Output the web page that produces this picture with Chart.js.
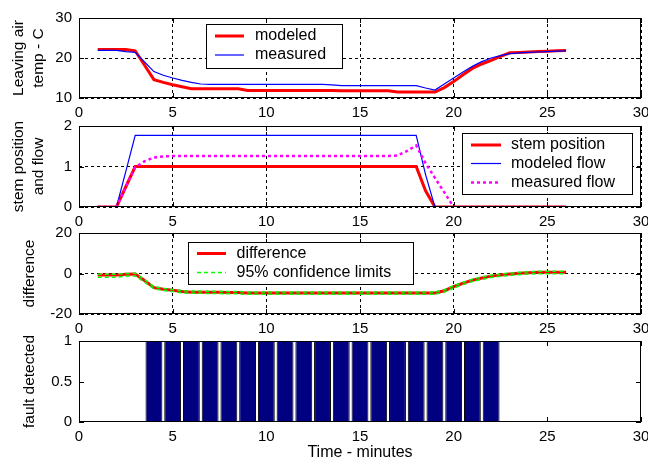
<!DOCTYPE html>
<html>
<head>
<meta charset="utf-8">
<script src="https://cdn.jsdelivr.net/npm/chart.js@4.4.0/dist/chart.umd.min.js"></script>
<style>
    html, body { margin: 0; padding: 0; background: #fff; }
    #wrap { position: relative; width: 648px; height: 461px; overflow: hidden; background: #fff; }
    #wrap canvas { position: absolute; left: 0; }
</style>
</head>
<body>
<div id="wrap">
    <canvas id="tempChart"  width="648" height="122" style="top:0px"></canvas>
    <canvas id="flowChart"  width="648" height="122" style="top:108px"></canvas>
    <canvas id="diffChart"  width="648" height="122" style="top:215px"></canvas>
    <canvas id="faultChart" width="648" height="138" style="top:323px"></canvas>
</div>
<script>
// sample times (minutes)
const minutes = [1, 1.5, 2, 2.5, 3, 3.5, 4, 4.5, 5, 5.5, 6, 6.5, 7, 7.5, 8, 8.5, 9, 9.5, 10, 10.5,
                 11, 11.5, 12, 12.5, 13, 13.5, 14, 14.5, 15, 15.5, 16, 16.5, 17, 17.5, 18, 18.5,
                 19, 19.5, 20, 20.5, 21, 21.5, 22, 22.5, 23, 23.5, 24, 24.5, 25, 25.5, 26];

// leaving air temp - C
const modeledTemp  = [22.1, 22.1, 22.1, 22.1, 21.8, 18.2, 14.6, 13.9, 13.3, 12.8, 12.3, 12.3, 12.3, 12.3, 12.3, 12.3,
                      11.9, 11.9, 11.9, 11.9, 11.9, 11.9, 11.9, 11.9, 11.9, 11.9, 11.8, 11.8, 11.8, 11.8, 11.8, 11.8,
                      11.5, 11.5, 11.5, 11.5, 11.5, 12.6, 14.1, 15.8, 17.4, 18.5, 19.4, 20.4, 21.3, 21.4, 21.5, 21.6,
                      21.7, 21.8, 21.9];
const measuredTemp = [21.9, 21.9, 21.9, 21.6, 21.4, 19.0, 16.6, 15.7, 15.0, 14.4, 13.9, 13.5, 13.4, 13.4, 13.4, 13.4,
                      13.4, 13.4, 13.4, 13.4, 13.4, 13.4, 13.4, 13.4, 13.4, 13.3, 13.1, 13.1, 13.1, 13.1, 13.1, 13.1,
                      13.1, 13.1, 13.1, 12.5, 12.0, 13.5, 15.0, 16.5, 17.9, 19.1, 20.0, 20.6, 21.1, 21.3, 21.4, 21.5,
                      21.6, 21.7, 21.8];

// stem position and flow
const stemPosition = [0, 0, 0, 0.5, 1, 1, 1, 1, 1, 1, 1, 1, 1, 1, 1, 1, 1, 1, 1, 1,
                      1, 1, 1, 1, 1, 1, 1, 1, 1, 1, 1, 1, 1, 1, 1, 0.4,
                      0, 0, 0, 0, 0, 0, 0, 0, 0, 0, 0, 0, 0, 0, 0];
const modeledFlow  = [0, 0, 0, 0.88, 1.77, 1.77, 1.77, 1.77, 1.77, 1.77, 1.77, 1.77, 1.77, 1.77, 1.77, 1.77, 1.77, 1.77, 1.77, 1.77,
                      1.77, 1.77, 1.77, 1.77, 1.77, 1.77, 1.77, 1.77, 1.77, 1.77, 1.77, 1.77, 1.77, 1.77, 1.77, 0.8,
                      0, 0, 0, 0, 0, 0, 0, 0, 0, 0, 0, 0, 0, 0, 0];
const measuredFlow = [0, 0, 0, 0.5, 0.98, 1.13, 1.22, 1.25, 1.26, 1.26, 1.26, 1.26, 1.26, 1.26, 1.26, 1.26, 1.26, 1.26, 1.26, 1.26,
                      1.26, 1.26, 1.26, 1.26, 1.26, 1.26, 1.26, 1.26, 1.26, 1.26, 1.26, 1.26, 1.27, 1.38, 1.52, 1.08,
                      0.72, 0.36, 0, 0, 0, 0, 0, 0, 0, 0, 0, 0, 0, 0, 0];

// difference with 95% confidence limits
const difference = [-0.8, -0.8, -0.8, -0.4, -0.3, -3.5, -7.0, -7.8, -8.3, -8.9, -9.2, -9.2, -9.3, -9.3, -9.4, -9.4,
                    -9.6, -9.6, -9.6, -9.6, -9.6, -9.6, -9.6, -9.6, -9.6, -9.6, -9.6, -9.6, -9.6, -9.6, -9.6, -9.6,
                    -9.6, -9.6, -9.6, -9.6, -9.6, -8.5, -6.5, -4.8, -3.3, -2.2, -1.3, -0.7, -0.3, 0.1, 0.4, 0.6,
                    0.6, 0.6, 0.6];
const upperLimit = [-0.4, -0.4, -0.4, 0.0, 0.1, -3.0, -6.5, -7.3, -7.9, -8.4, -8.7, -8.7, -8.8, -8.8, -8.9, -8.9,
                    -9.1, -9.1, -9.1, -9.1, -9.1, -9.1, -9.1, -9.1, -9.1, -9.1, -9.1, -9.1, -9.1, -9.1, -9.1, -9.1,
                    -9.1, -9.1, -9.1, -9.1, -9.1, -8.0, -6.0, -4.3, -2.8, -1.7, -0.8, -0.2, 0.2, 0.6, 0.9, 1.1,
                    1.1, 1.1, 1.1];
const lowerLimit = [-1.8, -1.8, -1.8, -1.3, -1.2, -4.3, -7.6, -8.4, -8.9, -9.5, -9.8, -9.8, -9.9, -9.9, -10.0, -10.0,
                    -10.3, -10.3, -10.3, -10.3, -10.3, -10.3, -10.3, -10.3, -10.3, -10.3, -10.3, -10.3, -10.3, -10.3, -10.3, -10.3,
                    -10.3, -10.3, -10.3, -10.3, -10.3, -9.2, -7.2, -5.5, -4.0, -2.9, -2.0, -1.4, -1.0, -0.6, -0.3, -0.1,
                    -0.1, -0.1, -0.1];

// fault detected, one flag per minute
const faultMinutes = [1, 2, 3, 4, 5, 6, 7, 8, 9, 10, 11, 12, 13, 14, 15, 16, 17, 18, 19, 20, 21, 22, 23, 24, 25, 26];
const faultFlag    = [0, 0, 0, 1, 1, 1, 1, 1, 1, 1, 1, 1, 1, 1, 1, 1, 1, 1, 1, 1, 1, 1, 0, 0, 0, 0];

const xTicks = [0, 5, 10, 15, 20, 25, 30];

const FONT = '"Liberation Sans", Arial, sans-serif';

const pts = (xs, ys) => xs.map((x, i) => ({ x, y: ys[i] }));

// MATLAB style box: inward ticks, black frame, legend inside the axes
const matlabAxes = {
    id: 'matlabAxes',
    beforeDatasetsDraw(chart) {
        const { ctx, chartArea: a, scales: { x, y } } = chart;
        ctx.save();
        ctx.strokeStyle = '#000';
        ctx.lineWidth = 1;
        ctx.beginPath();
        x.ticks.forEach(t => {
            const px = Math.round(x.getPixelForValue(t.value)) + 0.5;
            ctx.moveTo(px, a.bottom); ctx.lineTo(px, a.bottom - 5);
            ctx.moveTo(px, a.top);    ctx.lineTo(px, a.top + 5);
        });
        y.ticks.forEach(t => {
            const py = Math.round(y.getPixelForValue(t.value)) + 0.5;
            ctx.moveTo(a.left, py);  ctx.lineTo(a.left + 5, py);
            ctx.moveTo(a.right, py); ctx.lineTo(a.right - 5, py);
        });
        ctx.stroke();
        ctx.restore();
    },
    afterDatasetsDraw(chart, args, opts) {
        const { ctx, chartArea: a } = chart;
        ctx.save();
        ctx.strokeStyle = '#000';
        ctx.lineWidth = 1;
        ctx.strokeRect(a.left + 0.5, a.top + 0.5, a.right - a.left - 1, a.bottom - a.top - 1);

        const lg = opts.box;
        if (lg) {
            ctx.fillStyle = '#fff';
            ctx.fillRect(lg.left, lg.top, lg.width, lg.height);
            ctx.strokeRect(lg.left + 0.5, lg.top + 0.5, lg.width, lg.height);
            const items = chart.data.datasets.filter(d => d.label && !d.noLegend);
            items.forEach((d, i) => {
                const ry = lg.rows[i];
                ctx.strokeStyle = d.borderColor;
                ctx.lineWidth = d.borderWidth;
                ctx.setLineDash(d.borderDash || []);
                ctx.beginPath();
                ctx.moveTo(lg.lineFrom, ry);
                ctx.lineTo(lg.lineTo, ry);
                ctx.stroke();
                ctx.setLineDash([]);
                ctx.fillStyle = '#000';
                ctx.font = '16px ' + FONT;
                ctx.textBaseline = 'middle';
                ctx.textAlign = 'left';
                ctx.fillText(d.label, lg.textX, ry);
            });
        }
        ctx.restore();
    }
};

function makeOptions(cfg) {
    return {
        responsive: false,
        animation: false,
        devicePixelRatio: 1,
        layout: { padding: { top: 18, right: 7, left: 0, bottom: 0 } },
        plugins: {
            legend: { display: false },
            tooltip: { enabled: false },
            matlabAxes: { box: cfg.box }
        },
        elements: { point: { radius: 0 }, line: { tension: 0 } },
        scales: {
            x: {
                type: 'linear', min: 0, max: 30, offset: false,
                afterBuildTicks: s => { s.ticks = xTicks.map(v => ({ value: v })); },
                ticks: { color: '#000', padding: 6, maxRotation: 0, autoSkip: false, font: { family: FONT, size: 15 },
                         callback: v => String(v) },
                grid: { display: cfg.grid, color: '#000', lineWidth: 1, drawTicks: false, offset: false },
                border: { display: false, dash: [3, 3] },
                title: cfg.xTitle ? {
                    display: true, text: cfg.xTitle, color: '#000',
                    font: { family: FONT, size: 16, lineHeight: '17px' }, padding: { top: 0, bottom: 0 }
                } : { display: false },
                afterFit: s => { s.height = cfg.height - 18 - cfg.plotH; s.paddingLeft = 0; s.paddingRight = 0; }
            },
            y: {
                type: 'linear', min: cfg.yMin, max: cfg.yMax,
                ticks: { stepSize: cfg.yStep, color: '#000', padding: 7, font: { family: FONT, size: 15 },
                         callback: v => String(v) },
                grid: { display: cfg.grid, color: '#000', lineWidth: 1, drawTicks: false },
                border: { display: false, dash: [3, 3] },
                title: {
                    display: true, text: cfg.yTitle, color: '#000',
                    font: { family: FONT, size: 15.5, lineHeight: '20px' },
                    padding: { top: cfg.yTitlePad, bottom: 0 }
                },
                afterFit: s => { s.width = 79; s.paddingTop = 0; s.paddingBottom = 0; }
            }
        }
    };
}

new Chart(document.getElementById('tempChart'), {
    type: 'line',
    data: {
        datasets: [
            { label: 'modeled',  data: pts(minutes, modeledTemp),  borderColor: '#ff0000', borderWidth: 3,   order: 2 },
            { label: 'measured', data: pts(minutes, measuredTemp), borderColor: '#0000ff', borderWidth: 1.2, order: 1 }
        ]
    },
    options: makeOptions({
        height: 122, plotH: 80, yMin: 10, yMax: 30, yStep: 10, grid: true,
        yTitle: ['Leaving air', 'temp - C'], yTitlePad: 8.5,
        box: { left: 206, top: 24, width: 136, height: 44, rows: [36, 55], lineFrom: 215, lineTo: 244, textX: 255 }
    }),
    plugins: [matlabAxes]
});

new Chart(document.getElementById('flowChart'), {
    type: 'line',
    data: {
        datasets: [
            { label: 'stem position', data: pts(minutes, stemPosition), borderColor: '#ff0000', borderWidth: 3,   order: 3 },
            { label: 'modeled flow',  data: pts(minutes, modeledFlow),  borderColor: '#0000ff', borderWidth: 1.2, order: 2 },
            { label: 'measured flow', data: pts(minutes, measuredFlow), borderColor: '#ff00ff', borderWidth: 2.5, borderDash: [3, 3], order: 1 }
        ]
    },
    options: makeOptions({
        height: 122, plotH: 81, yMin: 0, yMax: 2, yStep: 1, grid: true,
        yTitle: ['stem position', 'and flow'], yTitlePad: 9,
        box: { left: 462, top: 25, width: 170, height: 61, rows: [37, 55.5, 74.5], lineFrom: 471, lineTo: 501, textX: 511 }
    }),
    plugins: [matlabAxes]
});

new Chart(document.getElementById('diffChart'), {
    type: 'line',
    data: {
        datasets: [
            { label: 'difference', data: pts(minutes, difference), borderColor: '#ff0000', borderWidth: 3, order: 3 },
            { label: '95% confidence limits', data: pts(minutes, upperLimit), borderColor: '#00ff00', borderWidth: 1.5, borderDash: [4, 3], order: 2 },
            { label: '95% confidence limits', noLegend: true, data: pts(minutes, lowerLimit), borderColor: '#00ff00', borderWidth: 1.5, borderDash: [4, 3], order: 1 }
        ]
    },
    options: makeOptions({
        height: 122, plotH: 81, yMin: -20, yMax: 20, yStep: 20, grid: true,
        yTitle: 'difference', yTitlePad: 20,
        box: { left: 188, top: 27, width: 225, height: 42, rows: [38.5, 57.5], lineFrom: 197, lineTo: 226, textX: 236.5 }
    }),
    plugins: [matlabAxes]
});

new Chart(document.getElementById('faultChart'), {
    type: 'bar',
    data: {
        datasets: [{
            label: 'fault detected',
            data: pts(faultMinutes, faultFlag),
            backgroundColor: '#000080',
            borderColor: '#000',
            borderWidth: 1,
            borderSkipped: false,
            barPercentage: 0.9,
            categoryPercentage: 1.0
        }]
    },
    options: makeOptions({
        height: 138, plotH: 81, yMin: 0, yMax: 1, yStep: 0.5, grid: false,
        yTitle: 'fault detected', yTitlePad: 20, xTitle: 'Time - minutes'
    }),
    plugins: [matlabAxes]
});
</script>
</body>
</html>
